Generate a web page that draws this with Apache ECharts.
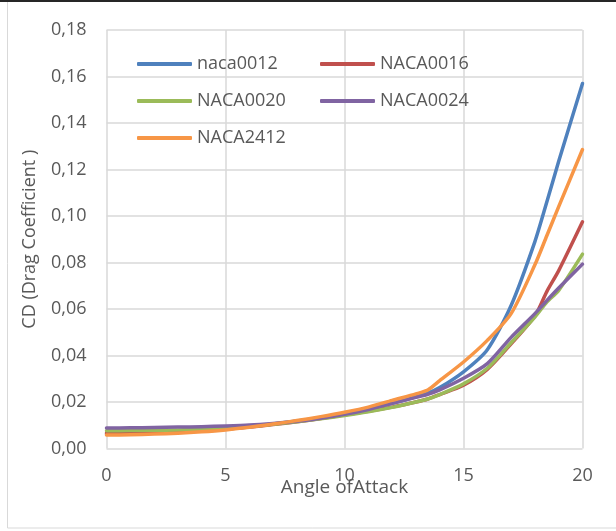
<!DOCTYPE html>
<html>
<head>
<meta charset="utf-8">
<script src="https://cdn.jsdelivr.net/npm/echarts@6/dist/echarts.min.js"></script>
<style>
  html, body { margin: 0; padding: 0; background: #ffffff; }
  #chart { width: 616px; height: 531px; }
</style>
</head>
<body>
<div id="chart"></div>
<script>
// Angle of attack (degrees) shared by all series
const angles = [0, 1, 2, 3, 4, 5, 6, 7, 8, 9, 10, 11, 12, 13, 13.5, 14, 15, 16, 17, 18, 18.5, 19, 20];

// Drag coefficient per airfoil
const naca0012 = [0.0062, 0.0063, 0.0066, 0.0070, 0.0076, 0.0083, 0.0093, 0.0105, 0.0118, 0.0133, 0.0150, 0.0170, 0.0194, 0.0222, 0.0238, 0.0262, 0.0330, 0.0425, 0.0615, 0.0890, 0.1060, 0.1235, 0.1570];
const naca0016 = [0.0067, 0.0068, 0.0070, 0.0073, 0.0078, 0.0084, 0.0092, 0.0103, 0.0115, 0.0129, 0.0145, 0.0160, 0.0178, 0.0200, 0.0213, 0.0232, 0.0272, 0.0340, 0.0450, 0.0570, 0.0675, 0.0765, 0.0975];
const naca0020 = [0.0076, 0.0077, 0.0078, 0.0080, 0.0083, 0.0088, 0.0095, 0.0104, 0.0115, 0.0128, 0.0142, 0.0158, 0.0177, 0.0200, 0.0213, 0.0232, 0.0278, 0.0345, 0.0455, 0.0565, 0.0630, 0.0680, 0.0836];
const naca0024 = [0.0088, 0.0089, 0.0090, 0.0092, 0.0094, 0.0097, 0.0101, 0.0108, 0.0117, 0.0130, 0.0147, 0.0168, 0.0194, 0.0220, 0.0233, 0.0252, 0.0302, 0.0365, 0.0478, 0.0580, 0.0636, 0.0690, 0.0793];
const naca2412 = [0.0058, 0.0059, 0.0062, 0.0066, 0.0072, 0.0080, 0.0091, 0.0105, 0.0120, 0.0137, 0.0156, 0.0178, 0.0207, 0.0235, 0.0252, 0.0292, 0.0372, 0.0465, 0.0580, 0.0790, 0.0915, 0.1040, 0.1286];

const seriesNames = ['naca0012', 'NACA0016', 'NACA0020', 'NACA0024', 'NACA2412'];
const seriesValues = [naca0012, naca0016, naca0020, naca0024, naca2412];
const seriesColors = ['#4f81bd', '#c0504d', '#9bbb59', '#8064a2', '#f79646'];

const FONT = '"Open Sans", "Noto Sans", sans-serif';
const TEXT = '#595959';
const GRID = '#d9d9d9';

// Legend laid out as two columns, three rows
const legendSlots = [
  { left: 137, top: 55 }, { left: 320, top: 55 },
  { left: 137, top: 92 }, { left: 320, top: 92 },
  { left: 137, top: 129 }
];

const chart = echarts.init(document.getElementById('chart'), null, { renderer: 'canvas' });

chart.setOption({
  backgroundColor: '#ffffff',
  animation: false,
  graphic: [
    { type: 'rect', shape: { x: 7.5, y: -10, width: 700, height: 538 },
      style: { fill: 'none', stroke: '#d9d9d9', lineWidth: 1 }, z: -1 },
    { type: 'line', shape: { x1: 0, y1: 1, x2: 616, y2: 1 },
      style: { stroke: '#262626', lineWidth: 2 }, z: 10 }
  ],
  grid: { left: 106.5, right: 33.5, top: 30, bottom: 82.5, containLabel: false },
  legend: legendSlots.map((slot, i) => ({
    data: [seriesNames[i]],
    left: slot.left,
    top: slot.top,
    itemWidth: 55,
    itemHeight: 4,
    itemGap: 0,
    icon: 'roundRect',
    textStyle: { color: TEXT, fontSize: 18, fontFamily: FONT, padding: [0, 0, 0, 0] },
    padding: 0
  })),
  xAxis: {
    type: 'value',
    min: 0,
    max: 20,
    interval: 5,
    name: 'Angle ofAttack',
    nameLocation: 'middle',
    nameGap: 30,
    nameMoveOverlap: false,
    nameTextStyle: { color: TEXT, fontSize: 19, fontFamily: FONT },
    axisLine: { show: false },
    axisTick: { show: false },
    axisLabel: { color: TEXT, fontSize: 18, fontFamily: FONT, margin: 18 },
    splitLine: { show: true, lineStyle: { color: GRID, width: 1.5 } }
  },
  yAxis: {
    type: 'value',
    min: 0,
    max: 0.18,
    interval: 0.02,
    name: 'CD (Drag Coefficient )',
    nameLocation: 'middle',
    nameGap: 68,
    nameMoveOverlap: false,
    nameTextStyle: { color: TEXT, fontSize: 18, fontFamily: FONT },
    axisLine: { show: false },
    axisTick: { show: false },
    axisLabel: {
      color: TEXT, fontSize: 18, fontFamily: FONT, margin: 20,
      formatter: v => v.toFixed(2).replace('.', ',')
    },
    splitLine: { show: true, lineStyle: { color: GRID, width: 1.5 } }
  },
  series: seriesNames.map((name, i) => ({
    name: name,
    type: 'line',
    data: angles.map((a, k) => [a, seriesValues[i][k]]),
    smooth: 0.25,
    showSymbol: false,
    symbol: 'none',
    color: seriesColors[i],
    lineStyle: { width: 3.5, color: seriesColors[i], cap: 'round', join: 'round' }
  }))
});
</script>
</body>
</html>
